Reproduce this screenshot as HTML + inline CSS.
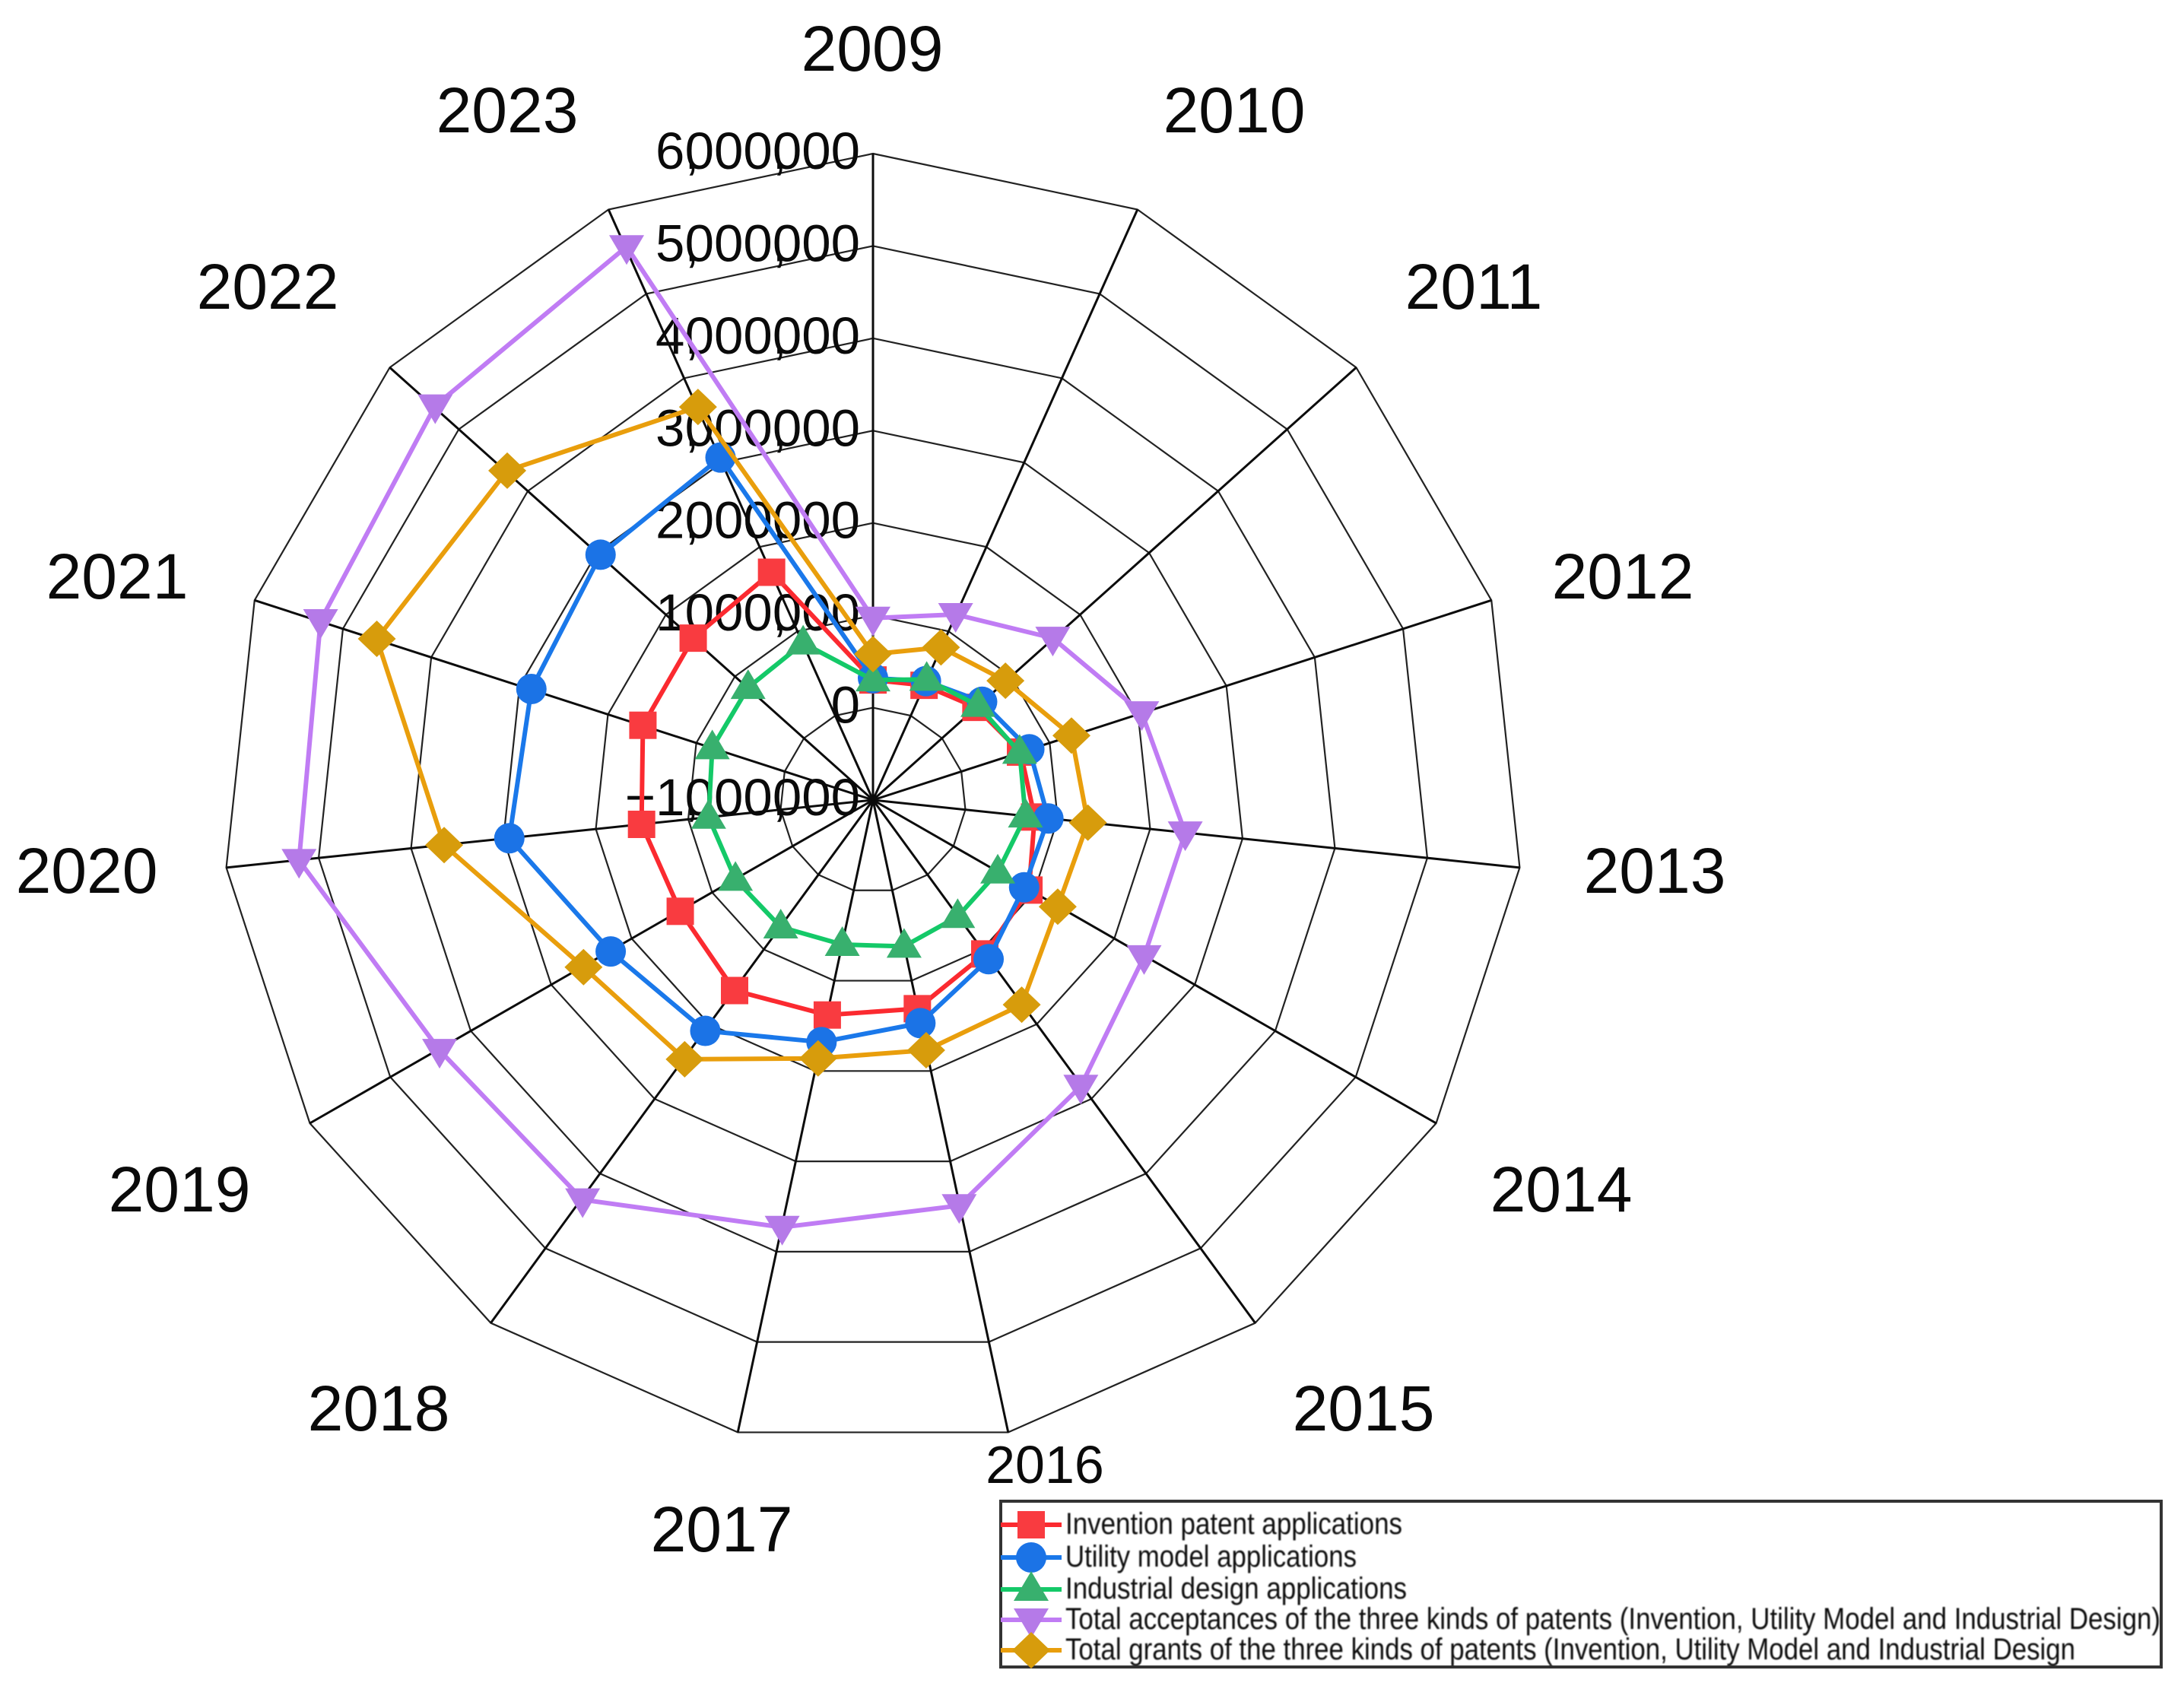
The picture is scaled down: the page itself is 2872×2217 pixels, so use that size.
<!DOCTYPE html>
<html lang="en">
<head>
<meta charset="utf-8">
<title>Patent radar chart 2009-2023</title>
<style>
  html, body { margin: 0; padding: 0; background: #fff; }
  #chart { display: block; width: 2872px; height: 2217px; font-family: "Liberation Sans", Arial, sans-serif; }
</style>
</head>
<body>
<svg id="chart" xmlns="http://www.w3.org/2000/svg" width="2872" height="2217" viewBox="0 0 2872 2217">
  <defs>
    <filter id="soft" x="-2%" y="-20%" width="104%" height="140%"><feGaussianBlur stdDeviation="0.8"/></filter>
  </defs>
</svg>
<script>
// ---- chart data ----
const categories = ['2009','2010','2011','2012','2013','2014','2015','2016','2017','2018','2019','2020','2021','2022','2023'];
const tickValues = [-1000000,0,1000000,2000000,3000000,4000000,5000000,6000000];
const inventionApplications = [300000,360000,500000,680000,760000,950000,1060000,1310000,1380000,1550000,1410000,1520000,1620000,1620000,1700000];
const utilityApplications = [320000,410000,590000,780000,910000,890000,1130000,1470000,1680000,2090000,2280000,2960000,2890000,2970000,3060000];
const designApplications = [300000,430000,530000,670000,660000,560000,560000,620000,600000,700000,720000,790000,830000,820000,860000];
const totalAcceptances = [970000,1200000,1620000,2060000,2400000,2390000,2830000,3490000,3730000,4350000,4420000,5250000,5290000,5380000,5560000];
const totalGrants = [580000,810000,930000,1260000,1340000,1310000,1740000,1770000,1860000,2470000,2620000,3670000,4650000,4330000,3660000];
const seriesNames = [
  'Invention patent applications',
  'Utility model applications',
  'Industrial design applications',
  'Total acceptances of the three kinds of patents (Invention, Utility Model and Industrial Design)',
  'Total grants of the three kinds of patents (Invention, Utility Model and Industrial Design'
];

// ---- layout (not data) ----
const svg = document.getElementById('chart');
const NS = 'http://www.w3.org/2000/svg';
const CX = 1148, CY = 1052, RADIUS = 850, GRID_X_STRETCH = 1.006;
const AXIS_MIN = tickValues[0], AXIS_MAX = tickValues[tickValues.length - 1];
const seriesStyles = [
  { line: '#fb2a30', fill: '#f93b40', shape: 'square' },
  { line: '#1a78ea', fill: '#1b73e6', shape: 'circle' },
  { line: '#14c968', fill: '#38b06e', shape: 'up' },
  { line: '#c07cf4', fill: '#b57ae8', shape: 'down' },
  { line: '#e99e0c', fill: '#d79c0c', shape: 'diamond' }
];
const seriesValues = [inventionApplications, utilityApplications, designApplications, totalAcceptances, totalGrants];
const labelCentres = [[1147,63],[1623,144],[1938,376],[2134,757],[2176,1144],[2053,1563],[1793,1851],[1374,1925],[949,2010],[498,1851],[236,1563],[114,1144],[154,757],[352,376],[667,144]];
const legendTextWidths = [443,383,449,1440,1328];
const legendRowY = [2005,2048,2090,2130,2170];

function radiusOf(v) { return (v - AXIS_MIN) / (AXIS_MAX - AXIS_MIN) * RADIUS; }
function angleOf(i) { return i * 2 * Math.PI / categories.length; }
function px(i, v) { return CX + radiusOf(v) * Math.sin(angleOf(i)); }
function py(i, v) { return CY - radiusOf(v) * Math.cos(angleOf(i)); }
function gx(i, v) { return CX + GRID_X_STRETCH * radiusOf(v) * Math.sin(angleOf(i)); }
function make(tag, attrs, parent) {
  const el = document.createElementNS(NS, tag);
  for (const k in attrs) el.setAttribute(k, attrs[k]);
  (parent || svg).appendChild(el);
  return el;
}
function markerShape(shape, x, y, fill, parent) {
  if (shape === 'square') return make('rect', { x: x - 18, y: y - 18, width: 36, height: 36, fill: fill }, parent);
  if (shape === 'circle') return make('circle', { cx: x, cy: y, r: 20, fill: fill }, parent);
  let pts;
  if (shape === 'up') pts = [[x, y - 24], [x + 23, y + 15], [x - 23, y + 15]];
  else if (shape === 'down') pts = [[x, y + 24], [x + 23, y - 15], [x - 23, y - 15]];
  else pts = [[x, y - 24], [x + 25, y], [x, y + 24], [x - 25, y]];
  return make('polygon', { points: pts.map(p => p.join(',')).join(' '), fill: fill }, parent);
}

// ---- grid rings ----
const gridGroup = make('g', {});


tickValues.slice(1).forEach(function (t) {
  const pts = categories.map((c, i) => gx(i, t) + ',' + py(i, t)).join(' ');
  const ring = make('polygon', { points: pts, fill: 'none', stroke: '#222', 'stroke-width': 2.2 }, gridGroup);
  
  
});

// ---- spokes ----
categories.forEach(function (c, i) {
  const spoke = make('line', { x1: CX, y1: CY, x2: gx(i, AXIS_MAX), y2: py(i, AXIS_MAX), stroke: '#0c0c0c', 'stroke-width': 3 }, gridGroup);
  
  
});

// ---- radial tick labels ----
tickValues.forEach(function (t) {
  const y = CY - radiusOf(t) + 20;
  const label = make('text', { x: 1131, y: y, 'text-anchor': 'end', 'font-size': 69, fill: '#0a0a0a' });
  
  
  const groups = Math.abs(t).toLocaleString('en-US').split(',');
  let first = true;
  if (t < 0) {
    const minus = make('tspan', {}, label);
    minus.textContent = '\u2212';
  }
  groups.forEach(function (g, n) {
    const digits = make('tspan', first ? {} : { dx: -19 }, label);
    digits.textContent = g;
    first = false;
    if (n < groups.length - 1) {
      const comma = make('tspan', {}, label);
      comma.textContent = ',';
    }
  });
});

// ---- category labels ----
categories.forEach(function (c, i) {
  const isSmall = c === '2016';
  const label = make('text', { x: labelCentres[i][0], y: labelCentres[i][1] + (isSmall ? 25 : 30), 'text-anchor': 'middle', 'font-size': isSmall ? 70 : 84, fill: '#0a0a0a' });
  
  
  label.textContent = c;
});

// ---- series lines and markers ----
seriesValues.forEach(function (values, s) {
  const style = seriesStyles[s];
  const group = make('g', {});
  
  
  const pts = values.map((v, i) => px(i, v) + ',' + py(i, v)).join(' ');
  const line = make('polygon', { points: pts, fill: 'none', stroke: style.line, 'stroke-width': 6, 'stroke-linejoin': 'round' }, group);
  
  
  values.forEach(function (v, i) {
    const mark = markerShape(style.shape, px(i, v), py(i, v), style.fill, group);
    
    
  });
});

// ---- legend ----
const legend = make('g', {});


const legendBox = make('rect', { x: 1316, y: 1974, width: 1526, height: 218, fill: 'none', stroke: '#333', 'stroke-width': 4 }, legend);


seriesNames.forEach(function (name, s) {
  const y = legendRowY[s];
  const style = seriesStyles[s];
  const entry = make('g', {}, legend);
  
  
  const swatchLine = make('line', { x1: 1316, y1: y, x2: 1396, y2: y, stroke: style.line, 'stroke-width': 6 }, entry);
  
  
  const swatch = markerShape(style.shape, 1356, y, style.fill, entry);
  
  
  const text = make('text', { x: 1401, y: y + 12, 'font-size': 40, fill: '#111', textLength: legendTextWidths[s], lengthAdjust: 'spacingAndGlyphs', filter: 'url(#soft)' }, entry);
  
  
  text.textContent = name;
});
</script>
</body>
</html>
